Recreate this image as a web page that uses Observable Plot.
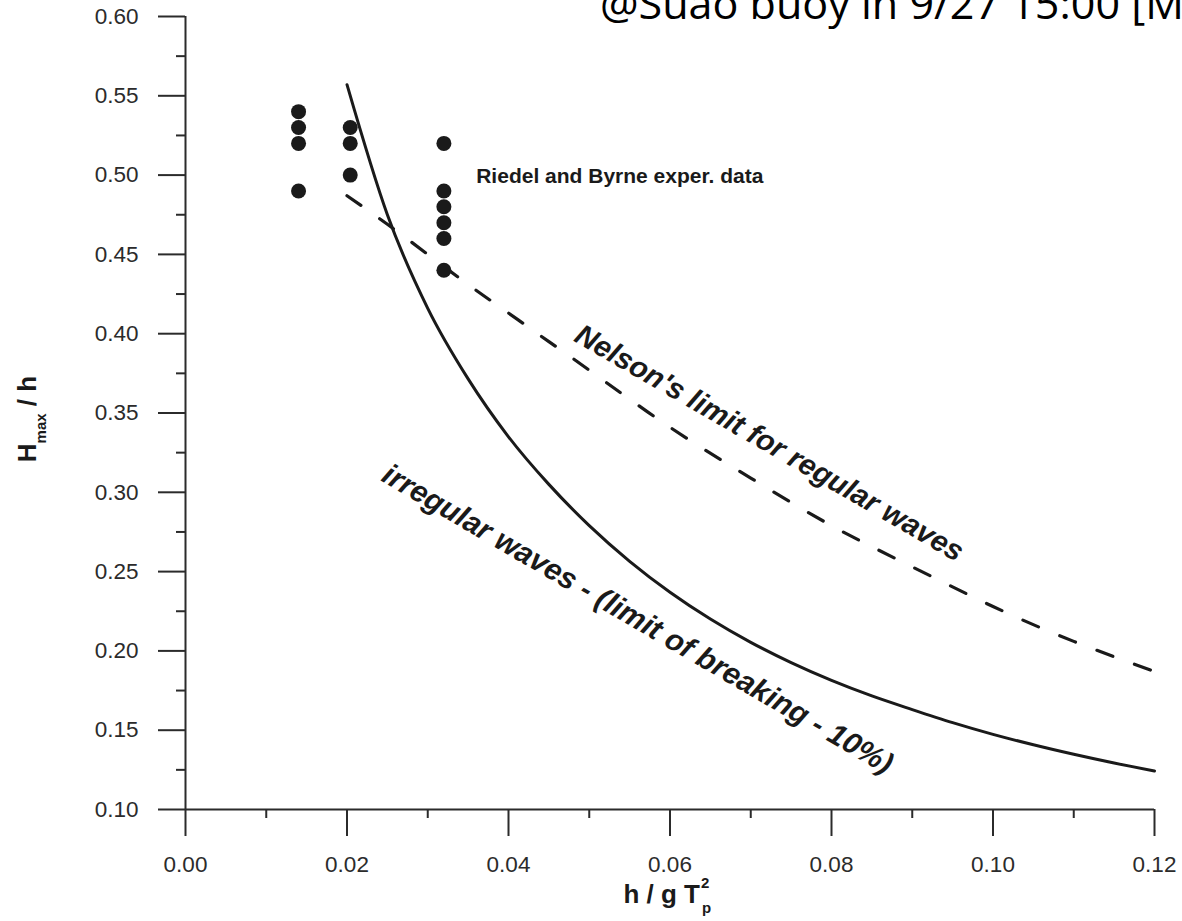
<!DOCTYPE html>
<html>
<head>
<meta charset="utf-8">
<script src="https://cdn.jsdelivr.net/npm/d3@7"></script>
<script src="https://cdn.jsdelivr.net/npm/@observablehq/plot@0.6"></script>
<style>
  html, body { margin: 0; padding: 0; background: #fff; width: 1182px; height: 921px; overflow: hidden; }
  #chart svg { display: block; }
</style>
</head>
<body>
<div id="chart"></div>
<script>
// Axis ticks
const yMajorTicks = [0.10, 0.15, 0.20, 0.25, 0.30, 0.35, 0.40, 0.45, 0.50, 0.55, 0.60];
const yMinorTicks = [0.125, 0.175, 0.225, 0.275, 0.325, 0.375, 0.425, 0.475, 0.525, 0.575];
const xMajorTicks = [0.00, 0.02, 0.04, 0.06, 0.08, 0.10, 0.12];
const xMinorTicks = [0.01, 0.03, 0.05, 0.07, 0.09, 0.11];

// Riedel and Byrne experimental data (h/gT², Hmax/h)
const riedelX = [0.014, 0.014, 0.014, 0.014, 0.0204, 0.0204, 0.0204, 0.032, 0.032, 0.032, 0.032, 0.032, 0.032];
const riedelY = [0.54, 0.53, 0.52, 0.49, 0.53, 0.52, 0.50, 0.52, 0.49, 0.48, 0.47, 0.46, 0.44];

// Irregular waves, limit of breaking (10%)
const irregularX = [0.020, 0.025, 0.030, 0.035, 0.040, 0.045, 0.050, 0.055, 0.060, 0.065, 0.070, 0.075,
                    0.080, 0.085, 0.090, 0.095, 0.100, 0.105, 0.110, 0.115, 0.120];
const irregularY = [0.557, 0.475, 0.416, 0.3715, 0.335, 0.305, 0.279, 0.2565, 0.237, 0.2201, 0.2054, 0.1926,
                    0.1814, 0.1716, 0.163, 0.1548, 0.1474, 0.1408, 0.1348, 0.1293, 0.1243];

// Nelson's limit for regular waves
const nelsonX = [0.020, 0.025, 0.030, 0.035, 0.040, 0.045, 0.050, 0.060, 0.070, 0.080, 0.090, 0.100, 0.110, 0.120];
const nelsonY = [0.487, 0.469, 0.450, 0.431, 0.413, 0.395, 0.377, 0.341, 0.309, 0.279, 0.253, 0.228, 0.206, 0.187];

const riedel = riedelX.map((x, i) => ({x, y: riedelY[i]}));
const irregular = irregularX.map((x, i) => ({x, y: irregularY[i]}));
const nelson = nelsonX.map((x, i) => ({x, y: nelsonY[i]}));

const ink = "#1a1a1a";
const axisInk = "#2b2b2b";
const font = "'Liberation Sans', Arial, Helvetica, sans-serif";

const svg = Plot.plot({
  width: 1182,
  height: 921,
  marginLeft: 185,
  marginRight: 28,
  marginTop: 16,
  marginBottom: 112,
  x: {domain: [0, 0.12]},
  y: {domain: [0.10, 0.60]},
  style: {fontFamily: font, fontSize: "22.5px", color: axisInk, background: "#fff"},
  marks: [
    // axis lines
    Plot.ruleX([0], {y1: 0.10, y2: 0.60, stroke: axisInk, strokeWidth: 2}),
    Plot.ruleY([0.10], {x1: 0, x2: 0.12, stroke: axisInk, strokeWidth: 2}),
    // ticks
    Plot.axisY({ticks: yMajorTicks, anchor: "left", tickSize: 27, tickPadding: 20,
      tickFormat: d3.format(".2f"), label: null, strokeWidth: 2, fontSize: 22.5}),
    Plot.axisY({ticks: yMinorTicks, anchor: "left", tickSize: 9, text: null, label: null, strokeWidth: 2}),
    Plot.axisX({ticks: xMajorTicks, anchor: "bottom", tickSize: 27, tickPadding: 20,
      tickFormat: d3.format(".2f"), label: null, strokeWidth: 2, fontSize: 22.5}),
    Plot.axisX({ticks: xMinorTicks, anchor: "bottom", tickSize: 9, text: null, label: null, strokeWidth: 2}),
    // curves
    Plot.line(nelson, {x: "x", y: "y", stroke: ink, strokeWidth: 3.2, strokeDasharray: "17,23", curve: "natural"}),
    Plot.line(irregular, {x: "x", y: "y", stroke: ink, strokeWidth: 3, curve: "monotone-x"}),
    // experimental points
    Plot.dot(riedel, {x: "x", y: "y", r: 7.5, fill: ink, stroke: null}),
    // annotations
    Plot.text(["Riedel and Byrne exper. data"], {x: 0.036, y: 0.499, text: d => d, textAnchor: "start",
      fontSize: 21, fontWeight: "bold", fill: ink}),
    Plot.text(["Nelson's limit for regular waves"], {x: 0.0723, y: 0.331, text: d => d, rotate: 30,
      fontSize: 29.5, fontWeight: "bold", fontStyle: "italic", fill: ink}),
    Plot.text(["irregular waves - (limit of breaking - 10%)"], {x: 0.056, y: 0.220, text: d => d, rotate: 30.2,
      fontSize: 30, fontWeight: "bold", fontStyle: "italic", fill: ink})
  ]
});

const root = d3.select(svg);

// y-axis title: H_max / h
const yTitle = root.append("text")
  .attr("transform", "translate(36,419) rotate(-90)")
  .attr("text-anchor", "middle")
  .attr("font-family", font)
  .attr("font-weight", "bold")
  .attr("font-size", 26)
  .attr("fill", ink);
yTitle.append("tspan").text("H");
yTitle.append("tspan").attr("font-size", 15).attr("dy", 10).text("max");
yTitle.append("tspan").attr("dy", -10).text(" / h");

// x-axis title: h / g T²_p
const xTitle = root.append("g")
  .attr("font-family", font)
  .attr("font-weight", "bold")
  .attr("fill", ink);
xTitle.append("text").attr("x", 700).attr("y", 903).attr("text-anchor", "end")
  .attr("font-size", 26).text("h / g T");
xTitle.append("text").attr("x", 701).attr("y", 888).attr("text-anchor", "start")
  .attr("font-size", 15).text("2");
xTitle.append("text").attr("x", 702).attr("y", 913).attr("text-anchor", "start")
  .attr("font-size", 15).text("p");

// header line running off the top-right edge
root.append("text")
  .attr("x", 600)
  .attr("y", 19)
  .attr("text-anchor", "start")
  .attr("font-family", "'Open Sans', 'Noto Sans', sans-serif")
  .attr("font-size", 42)
  .attr("fill", "#000")
  .attr("textLength", 584)
  .attr("lengthAdjust", "spacingAndGlyphs")
  .text("@Suao buoy in 9/27 15:00 [M");

document.getElementById("chart").appendChild(svg);
</script>
</body>
</html>
